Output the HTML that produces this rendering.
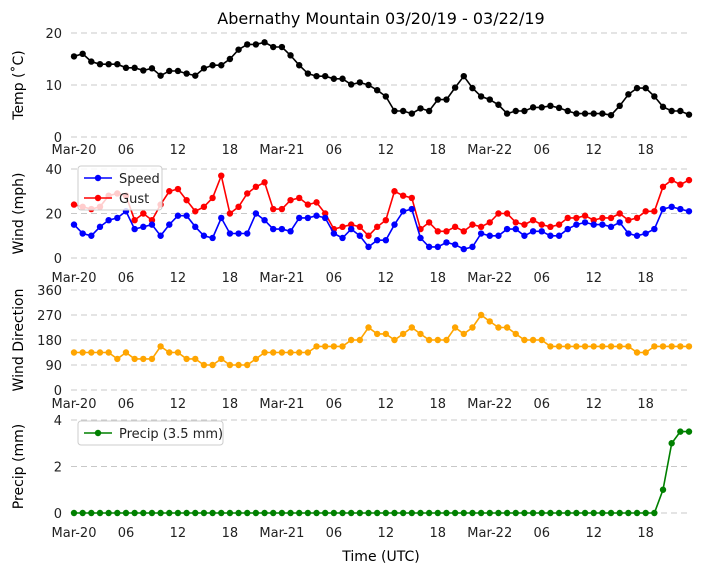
<!DOCTYPE html>
<html><head><meta charset="utf-8"><style>
body{margin:0;background:#fff;}
svg{display:block;font-family:"DejaVu Sans","Liberation Sans",sans-serif;}
</style></head><body>
<svg id="chart" width="704" height="573" viewBox="0 0 704 573" xmlns="http://www.w3.org/2000/svg">
<text x="381" y="24" font-size="16" text-anchor="middle" fill="#000">Abernathy Mountain 03/20/19 - 03/22/19</text>
<text x="381" y="561" font-size="14" text-anchor="middle" fill="#000">Time (UTC)</text>
<g id="plots"></g>
</svg>
<script>
const hours = Array.from({length:72},(_,i)=>i);
const tickHours = [0,6,12,18,24,30,36,42,48,54,60,66];
const tickLabels = ["Mar-20","06","12","18","Mar-21","06","12","18","Mar-22","06","12","18"];
const temp = [15.5,16,14.5,14,14,14,13.3,13.3,12.8,13.2,11.8,12.7,12.7,12.2,11.8,13.2,13.8,13.8,15,16.8,17.8,17.8,18.2,17.3,17.3,15.7,13.8,12.2,11.7,11.7,11.2,11.2,10.1,10.5,10,9,7.8,5,5,4.5,5.5,5,7.2,7.2,9.5,11.7,9.4,7.8,7.2,6.2,4.5,5,5,5.7,5.7,6,5.6,5,4.5,4.5,4.5,4.5,4.2,6,8.2,9.4,9.4,7.8,5.8,5,5,4.3];
const speed = [15,11,10,14,17,18,21,13,14,15,10,15,19,19,14,10,9,18,11,11,11,20,17,13,13,12,18,18,19,18,11,9,13,10,5,8,8,15,21,22,9,5,5,7,6,4,5,11,10,10,13,13,10,12,12,10,10,13,15,16,15,15,14,16,11,10,11,13,22,23,22,21];
const gust = [24,23,22,23,28,29,28,17,20,17,24,30,31,26,21,23,27,37,20,23,29,32,34,22,22,26,27,24,25,20,13,14,15,14,10,14,17,30,28,27,13,16,12,12,14,12,15,14,16,20,20,16,15,17,15,14,15,18,18,19,17,18,18,20,17,18,21,21,32,35,33,35];
const direction = [135,135,135,135,135,112,135,112,112,112,157,135,135,112,112,90,90,112,90,90,90,112,135,135,135,135,135,135,157,157,157,157,180,180,225,202,202,180,202,225,202,180,180,180,225,202,225,270,247,225,225,202,180,180,180,157,157,157,157,157,157,157,157,157,157,135,135,157,157,157,157,157];
const precip = [0,0,0,0,0,0,0,0,0,0,0,0,0,0,0,0,0,0,0,0,0,0,0,0,0,0,0,0,0,0,0,0,0,0,0,0,0,0,0,0,0,0,0,0,0,0,0,0,0,0,0,0,0,0,0,0,0,0,0,0,0,0,0,0,0,0,0,0,1,3,3.5,3.5];

const NS="http://www.w3.org/2000/svg";
const root=document.getElementById('plots');
function xs(h){return 74+h*(689-74)/71;}
function mk(tag,attrs,parent){const e=document.createElementNS(NS,tag);for(const k in attrs)e.setAttribute(k,attrs[k]);(parent||root).appendChild(e);return e;}

const panels=[
 {name:'temp',title:'Temp (˚C)',ymin:0,ymax:20,top:33,bot:137,ticks:[0,10,20],tickY:154,series:[{d:temp,c:'#000',n:'temp-line'}]},
 {name:'wind',title:'Wind (mph)',ymin:0,ymax:40,top:169,bot:258,ticks:[0,20,40],tickY:282,series:[{d:gust,c:'#ff0000',n:'gust-line'},{d:speed,c:'#0000ff',n:'speed-line'}]},
 {name:'direction',title:'Wind Direction',ymin:0,ymax:360,top:290,bot:390,ticks:[0,90,180,270,360],tickY:408,series:[{d:direction,c:'#ffa500',n:'direction-line'}]},
 {name:'precip',title:'Precip (mm)',ymin:0,ymax:4,top:420,bot:513,ticks:[0,2,4],tickY:537,series:[{d:precip,c:'#008000',n:'precip-line'}]}
];
panels.forEach(p=>{
 const g=mk('g',{});
 
 
 const ys=v=>p.bot-(v-p.ymin)/(p.ymax-p.ymin)*(p.bot-p.top);
 p.ticks.forEach(t=>{
  const l=mk('line',{x1:71,x2:691,y1:ys(t),y2:ys(t),stroke:'#c8c8c8','stroke-dasharray':'6,4','stroke-width':1},g);
  
  
  const tx=mk('text',{x:62,y:ys(t)+5,'font-size':13,'text-anchor':'end',fill:'#222'},g);
  
  
  tx.textContent=t;
 });
 tickHours.forEach((h,i)=>{
  const tx=mk('text',{x:xs(h),y:p.tickY,'font-size':13,'text-anchor':'middle',fill:'#222'},g);
  
  
  tx.textContent=tickLabels[i];
 });
 const cy=(p.top+p.bot)/2;
 const yt=mk('text',{x:0,y:0,'font-size':14,'text-anchor':'middle',fill:'#000',transform:`translate(23,${cy}) rotate(-90)`},g);
 
 
 yt.textContent=p.title;
 p.series.forEach(s=>{
  const pts=hours.map(h=>xs(h).toFixed(1)+','+ys(s.d[h]).toFixed(1)).join(' ');
  const pl=mk('polyline',{points:pts,fill:'none',stroke:s.c,'stroke-width':1.6},g);
  
  
  hours.forEach(h=>{
   const c=mk('circle',{cx:xs(h),cy:ys(s.d[h]),r:3.2,fill:s.c},g);
   
   
  });
 });
});
function legend(x,y,w,entries){
 const g=mk('g',{});
 
 
 mk('rect',{x:x,y:y,width:w,height:entries.length*20+4,rx:3,fill:'rgba(255,255,255,0.8)',stroke:'#ccc'},g);
 entries.forEach((e,i)=>{
  const yy=y+12+i*20;
  mk('line',{x1:x+6,x2:x+34,y1:yy,y2:yy,stroke:e[1],'stroke-width':1.6},g);
  mk('circle',{cx:x+20,cy:yy,r:3.2,fill:e[1]},g);
  const t=mk('text',{x:x+41,y:yy+5,'font-size':13,fill:'#222'},g);
  
  
  t.textContent=e[0];
 });
}
legend(78,166,84,[['Speed','#0000ff'],['Gust','#ff0000']]);
legend(78,421,145,[['Precip (3.5 mm)','#008000']]);
</script>
</body></html>
